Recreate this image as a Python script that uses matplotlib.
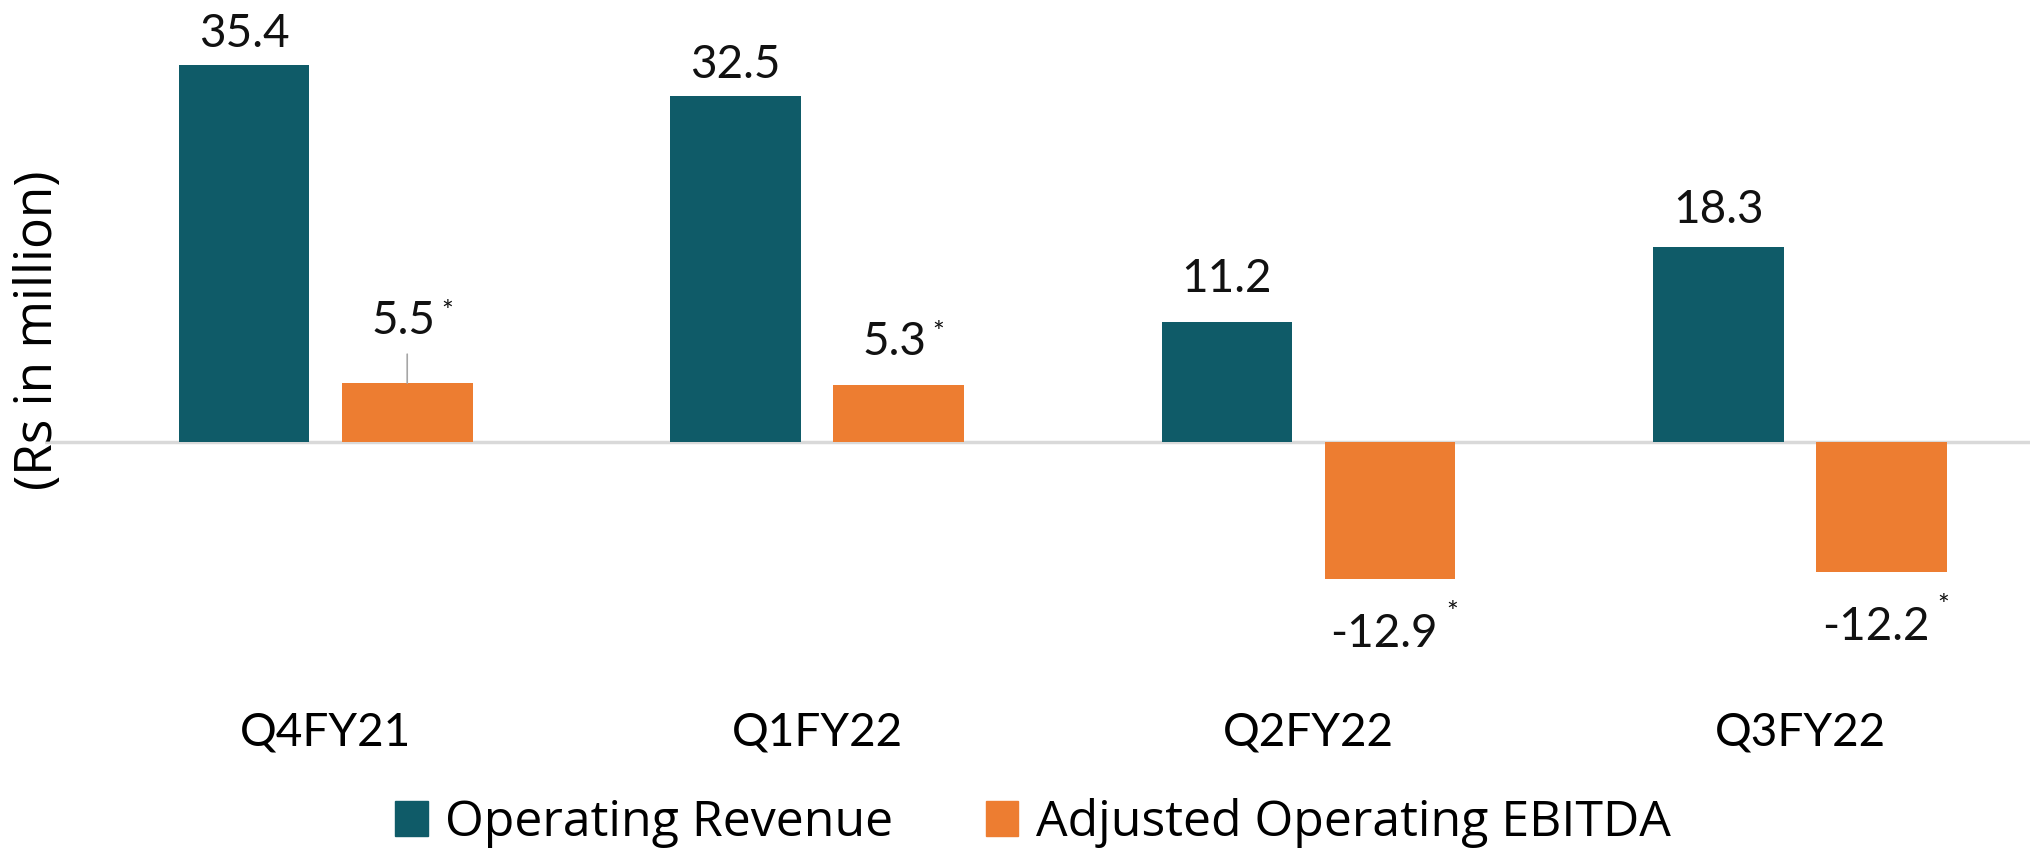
import numpy as np
import matplotlib.pyplot as plt

# =====================================================
# 数据
# =====================================================

categories = ["Q4FY21", "Q1FY22", "Q2FY22", "Q3FY22"]
revenue = [35.4, 32.5, 11.2, 18.3]
ebitda = [5.5, 5.3, -12.9, -12.2]
revenue_labels = ["35.4", "32.5", "11.2", "18.3"]
ebitda_labels = ["5.5", "5.3", "-12.9", "-12.2"]

series_names = ["Operating Revenue", "Adjusted Operating EBITDA"]

TEAL = "#0F5B68"
ORANGE = "#ED7D31"
FONT = ["Lato", "DejaVu Sans"]
WIDE = ["Open Sans", "DejaVu Sans"]

plt.rcParams["font.family"] = FONT

# =====================================================
# 画布
# =====================================================

fig = plt.figure(figsize=(20.31, 8.49), dpi=100)
ax = fig.add_axes([45 / 2031, (849 - 600) / 849, 1 - 45 / 2031, 580 / 849])

x = np.arange(len(categories))
width = 0.266
shift = 0.166

ax.bar(x - shift, revenue, width, color=TEAL, zorder=2)
ax.bar(x + shift, ebitda, width, color=ORANGE, zorder=2)

ax.axhline(0, color="#d9d9d9", lw=2.5, zorder=1)

ax.set_xlim(-0.571, 3.47)
ax.set_ylim(-14.86, 39.6)

# 数值标签 (像素偏移)
rev_offsets = [18, 18, 30, 24]
ebit_offsets = [49, 30, -34, -34]

for i in range(len(categories)):
    ax.annotate(revenue_labels[i], xy=(x[i] - shift, revenue[i]),
                xytext=(0, rev_offsets[i]), textcoords="offset pixels",
                ha="center", va="baseline", fontsize=33, color="#111111")

    v = ebitda[i]
    if v >= 0:
        t = ax.annotate(ebitda_labels[i], xy=(x[i] + shift, v),
                        xytext=(-4, ebit_offsets[i]), textcoords="offset pixels",
                        ha="center", va="baseline", fontsize=33, color="#111111")
        star_off = (6, 0)
    else:
        t = ax.annotate(ebitda_labels[i], xy=(x[i] + shift, v),
                        xytext=(-6, ebit_offsets[i]), textcoords="offset pixels",
                        ha="center", va="top", fontsize=33, color="#111111")
        star_off = (8, 12)
    # 星号
    ax.annotate("*", xy=(1, 1), xycoords=t, xytext=star_off,
                textcoords="offset pixels", ha="left", va="top",
                fontsize=20, color="#111111")

# 5.5 的引导线
ax.annotate("", xy=(x[0] + shift, ebitda[0]), xytext=(0, 29),
            textcoords="offset pixels",
            arrowprops=dict(arrowstyle="-", color="#a6a6a6", lw=1.2,
                            shrinkA=0, shrinkB=0))

ax.set_xticks(x)
ax.set_xticklabels(categories, fontsize=33)
ax.tick_params(axis="x", length=0, pad=80)
ax.set_yticks([])
for s in ax.spines.values():
    s.set_visible(False)

fig.text(39 / 2031, 1 - 330 / 849, "(Rs in million)", rotation=90,
         ha="center", va="center", fontsize=37, family=WIDE)

# 图例
handles = [plt.Rectangle((0, 0), 1, 1, color=TEAL),
           plt.Rectangle((0, 0), 1, 1, color=ORANGE)]
fig.legend(handles, series_names, loc="center", ncol=2,
           bbox_to_anchor=(0.5086, 0.031), frameon=False,
           prop={"family": WIDE, "size": 36},
           handlelength=0.65, handleheight=0.7, handletextpad=0.35,
           columnspacing=1.85)

fig.savefig("out.png", dpi=100)
